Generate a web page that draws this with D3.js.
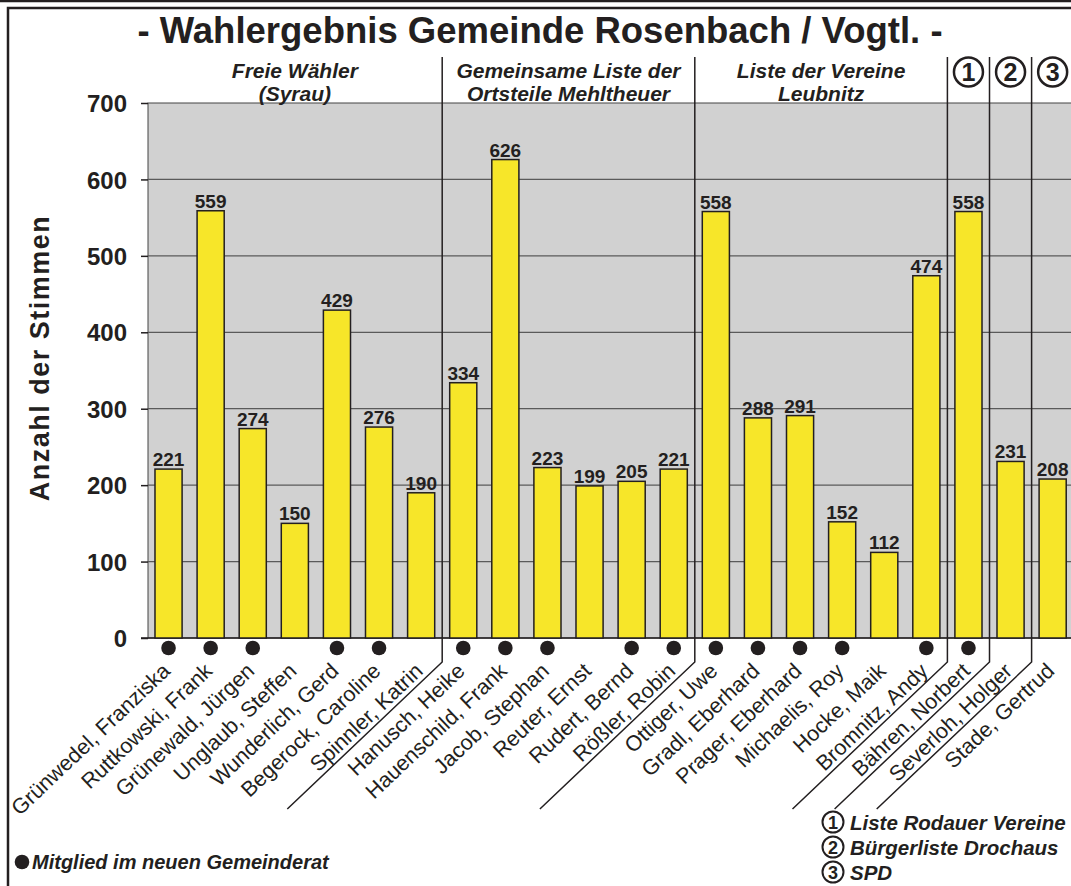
<!DOCTYPE html>
<html lang="de">
<head>
<meta charset="UTF-8">
<title>Wahlergebnis Gemeinde Rosenbach / Vogtl.</title>
<style>
  html, body { margin: 0; padding: 0; background: #fff; }
  svg { display: block; font-family: "Liberation Sans", Arial, sans-serif; }
  .axis text { font-size: 24px; font-weight: 700; fill: #231f20; }
  .axis line { stroke: #231f20; stroke-width: 1.5; }
  .axis .domain { display: none; }
</style>
</head>
<body>
<div id="chart"></div>
<script src="https://cdn.jsdelivr.net/npm/d3@7/dist/d3.min.js"></script>
<script>
"use strict";

// candidates, left to right
var names = [
  "Grünwedel, Franziska", "Ruttkowski, Frank", "Grünewald, Jürgen", "Unglaub, Steffen",
  "Wunderlich, Gerd", "Begerock, Caroline", "Spinnler, Katrin",
  "Hanusch, Heike", "Hauenschild, Frank", "Jacob, Stephan", "Reuter, Ernst",
  "Rudert, Bernd", "Rößler, Robin",
  "Ottiger, Uwe", "Gradl, Eberhard", "Prager, Eberhard", "Michaelis, Roy",
  "Hocke, Maik", "Bromnitz, Andy",
  "Bähren, Norbert", "Severloh, Holger", "Stade, Gertrud"
];
var votes = [221, 559, 274, 150, 429, 276, 190, 334, 626, 223, 199, 205, 221,
             558, 288, 291, 152, 112, 474, 558, 231, 208];
// 1 = Mitglied im neuen Gemeinderat
var elected = [1, 1, 1, 0, 1, 1, 0, 1, 1, 1, 0, 1, 1, 1, 1, 1, 1, 0, 1, 1, 0, 0];

// lists (groups of bars)
var groupHeaders = [["Freie Wähler", "(Syrau)"], ["Gemeinsame Liste der", "Ortsteile Mehltheuer"],
                    ["Liste der Vereine", "Leubnitz"], ["1"], ["2"], ["3"]];
var groupSizes = [7, 6, 6, 1, 1, 1];
var partyNames = ["Liste Rodauer Vereine", "Bürgerliste Drochaus", "SPD"];

var yTicks = [0, 100, 200, 300, 400, 500, 600, 700];

var width = 1071, height = 886;
var ink = "#231f20";
var angle = -43.5;

var svg = d3.select("#chart").append("svg")
  .attr("width", width)
  .attr("height", height);

// frame
svg.append("line").attr("x1", 0).attr("x2", width).attr("y1", 1).attr("y2", 1)
  .attr("stroke", ink).attr("stroke-width", 2.5);
svg.append("path").attr("d", "M8," + height + "V8H" + width)
  .attr("fill", "none").attr("stroke", ink).attr("stroke-width", 2.5);

var x = d3.scaleBand()
  .domain(d3.range(names.length))
  .range([148, 1073.2])
  .paddingInner(0.356)
  .paddingOuter(0.166);

var y = d3.scaleLinear().domain([0, 700]).range([638, 103]);

var gap = x.step() - x.bandwidth();
function mid(i) { return x(i) + x.bandwidth() / 2; }

// plot background
svg.append("rect")
  .attr("x", 148).attr("y", y(700))
  .attr("width", width - 148 + 5).attr("height", y(0) - y(700))
  .attr("fill", "#d1d1d1").attr("stroke", "#444").attr("stroke-width", 1);

// grid lines
svg.selectAll("line.grid")
  .data(yTicks.filter(function(d) { return d > 0 && d < 700; }))
  .enter().append("line")
  .attr("class", "grid")
  .attr("x1", 148).attr("x2", width)
  .attr("y1", function(d) { return y(d); })
  .attr("y2", function(d) { return y(d); })
  .attr("stroke", "#5a5a5a").attr("stroke-width", 1.3);

// y axis
svg.append("g")
  .attr("class", "axis")
  .attr("transform", "translate(148,0)")
  .call(d3.axisLeft(y).tickValues(yTicks).tickSize(7).tickPadding(14))
  .selectAll("text").attr("dy", "0.36em");

// baseline
svg.append("line")
  .attr("x1", 141).attr("x2", width)
  .attr("y1", y(0)).attr("y2", y(0))
  .attr("stroke", ink).attr("stroke-width", 1.5);

// y title
svg.append("text")
  .attr("transform", "translate(49,358) rotate(-90)")
  .attr("text-anchor", "middle")
  .attr("font-size", 27)
  .attr("font-weight", 700)
  .attr("letter-spacing", 1.5)
  .attr("fill", ink)
  .text("Anzahl der Stimmen");

// bars
svg.selectAll("rect.bar")
  .data(votes)
  .enter().append("rect")
  .attr("class", "bar")
  .attr("x", function(d, i) { return x(i); })
  .attr("y", function(d) { return y(d); })
  .attr("width", x.bandwidth())
  .attr("height", function(d) { return y(0) - y(d); })
  .attr("fill", "#f7e629")
  .attr("stroke", ink)
  .attr("stroke-width", 1.5);

// value labels
svg.selectAll("text.val")
  .data(votes)
  .enter().append("text")
  .attr("class", "val")
  .attr("x", function(d, i) { return mid(i); })
  .attr("y", function(d) { return y(d) - 3; })
  .attr("text-anchor", "middle")
  .attr("font-size", 19)
  .attr("font-weight", 700)
  .attr("fill", ink)
  .text(function(d) { return d; });

// elected dots
elected.forEach(function(d, i) {
  if (!d) return;
  svg.append("circle")
    .attr("class", "dot")
    .attr("cx", mid(i))
    .attr("cy", 648)
    .attr("r", 7.3)
    .attr("fill", ink);
});

// category labels
svg.selectAll("text.name")
  .data(names)
  .enter().append("text")
  .attr("class", "name")
  .attr("transform", function(d, i) {
    return "translate(" + (mid(i) + 3) + ",672.5) rotate(" + angle + ")";
  })
  .attr("text-anchor", "end")
  .attr("font-size", 21.5)
  .attr("fill", ink)
  .text(function(d) { return d; });

// group dividers and headers
var starts = [];
var acc = 0;
groupSizes.forEach(function(s) { starts.push(acc); acc += s; });

var slope = Math.tan(-angle * Math.PI / 180);

starts.forEach(function(s, g) {
  var first = s, last = s + groupSizes[g] - 1;
  var cx = (x(first) + x(last) + x.bandwidth()) / 2;
  var hdr = groupHeaders[g];

  if (g > 0) {
    var dx = x(first) - gap / 2;
    var drop = 147;
    svg.append("path")
      .attr("d", "M" + dx + ",57V662L" + (dx - drop / slope) + "," + (662 + drop))
      .attr("fill", "none")
      .attr("stroke", ink)
      .attr("stroke-width", 1.5);
  }

  if (hdr.length === 2) {
    svg.append("text")
      .attr("x", cx).attr("y", 77.5)
      .attr("text-anchor", "middle")
      .attr("font-size", 21).attr("font-weight", 700).attr("font-style", "italic")
      .attr("fill", ink)
      .text(hdr[0]);
    svg.append("text")
      .attr("x", cx).attr("y", 101)
      .attr("text-anchor", "middle")
      .attr("font-size", 21).attr("font-weight", 700).attr("font-style", "italic")
      .attr("fill", ink)
      .text(hdr[1]);
  } else {
    svg.append("circle")
      .attr("cx", cx).attr("cy", 72).attr("r", 14.5)
      .attr("fill", "none").attr("stroke", ink).attr("stroke-width", 2.5);
    svg.append("text")
      .attr("x", cx).attr("y", 81)
      .attr("text-anchor", "middle")
      .attr("font-size", 25).attr("font-weight", 700)
      .attr("fill", ink)
      .text(hdr[0]);
  }
});

// title
svg.append("text")
  .attr("x", 540).attr("y", 43)
  .attr("text-anchor", "middle")
  .attr("font-size", 36.5)
  .attr("font-weight", 700)
  .attr("fill", ink)
  .text("- Wahlergebnis Gemeinde Rosenbach / Vogtl. -");

// legend: elected
svg.append("circle").attr("cx", 22).attr("cy", 862).attr("r", 7.3).attr("fill", ink);
svg.append("text")
  .attr("x", 32).attr("y", 869)
  .attr("font-size", 20).attr("font-weight", 700).attr("font-style", "italic")
  .attr("fill", ink)
  .text("Mitglied im neuen Gemeinderat");

// legend: parties
partyNames.forEach(function(p, i) {
  var cy = 822 + i * 25;
  svg.append("circle")
    .attr("cx", 833).attr("cy", cy).attr("r", 10.5)
    .attr("fill", "none").attr("stroke", ink).attr("stroke-width", 2);
  svg.append("text")
    .attr("x", 833).attr("y", cy + 6.5)
    .attr("text-anchor", "middle")
    .attr("font-size", 18).attr("font-weight", 700)
    .attr("fill", ink)
    .text(i + 1);
  svg.append("text")
    .attr("x", 850).attr("y", cy + 7.5)
    .attr("font-size", 20.5).attr("font-weight", 700).attr("font-style", "italic")
    .attr("fill", ink)
    .text(p);
});
</script>
</body>
</html>
